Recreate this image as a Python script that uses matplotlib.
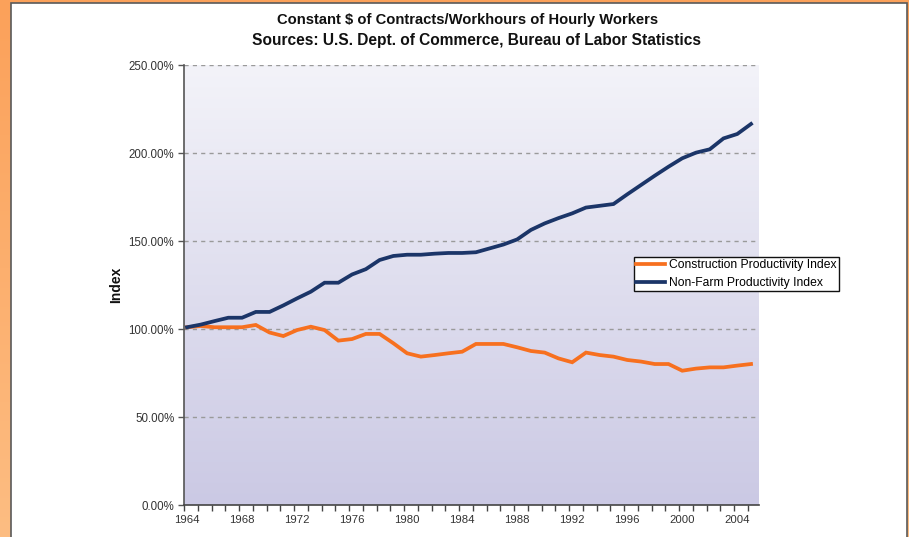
import numpy as np
import matplotlib
matplotlib.use("Agg")
import matplotlib.pyplot as plt
from matplotlib.patches import Rectangle
from matplotlib.colors import LinearSegmentedColormap
from matplotlib.ticker import FixedLocator, FuncFormatter

plt.rcParams['font.family'] = ['Liberation Sans', 'DejaVu Sans']

years = list(range(1964, 2006))
construction = [101, 101.7, 101, 101, 101, 102.3, 98, 96, 99.4, 101.3,
                99.4, 93.4, 94.3, 97.2, 97.2, 91.9, 86.2, 84.3, 85.2, 86.2,
                87.1, 91.5, 91.5, 91.5, 89.6, 87.5, 86.6, 83.3, 81.1, 86.6,
                85.2, 84.3, 82.4, 81.5, 80.1, 80.1, 76.3, 77.5, 78.2, 78.2,
                79.2, 80.1]
nonfarm = [101, 102.5, 104.5, 106.4, 106.4, 109.7, 109.7, 113.4, 117.4, 121.2,
           126.3, 126.3, 131, 134, 139.2, 141.5, 142.2, 142.2, 142.8, 143.2,
           143.2, 143.6, 145.8, 148, 150.9, 156.3, 160, 163, 165.7, 169,
           170, 171, 176.5, 181.8, 187.1, 192.2, 197, 200.2, 202.1, 208.3,
           210.8, 216.5]
y_ticks = [0, 50, 100, 150, 200, 250]
label_years = list(range(1964, 2005, 4))
series_names = ["Construction Productivity Index", "Non-Farm Productivity Index"]
title1 = "Constant $ of Contracts/Workhours of Hourly Workers"
title2 = "Sources: U.S. Dept. of Commerce, Bureau of Labor Statistics"

W, H = 909, 537
fig = plt.figure(figsize=(W / 100, H / 100), dpi=100)

# orange background gradient
bg = fig.add_axes([0, 0, 1, 1], zorder=-10)
bg.set_axis_off()
ocmap = LinearSegmentedColormap.from_list("o", ["#FBA15A", "#FDBD82"])
bg.imshow(np.linspace(0, 1, 256).reshape(-1, 1), aspect='auto', cmap=ocmap,
          extent=[0, 1, 0, 1], origin='upper')
bg.set_xlim(0, 1)
bg.set_ylim(0, 1)
bg.add_patch(Rectangle((10.5 / W, -0.01), (907 - 10.5) / W, 1.01 - 3 / H,
                       facecolor='white', edgecolor='#5a5a5a', linewidth=1.2,
                       transform=bg.transAxes))

left, right = 184 / W, 759 / W
bottom, top = 1 - 505 / H, 1 - 65 / H
ax = fig.add_axes([left, bottom, right - left, top - bottom])

x = np.arange(len(years))
x0, x1 = -0.22, len(years) - 1 + 0.58

# plot gradient background
pcmap = LinearSegmentedColormap.from_list("p", ["#F3F3F9", "#CBC9E4"])
ax.imshow(np.linspace(0, 1, 256).reshape(-1, 1), aspect='auto', cmap=pcmap,
          extent=[x0, x1, 0, 250], origin='upper', zorder=0)

for v in y_ticks[1:]:
    ax.axhline(v, color='#9a9a9a', linestyle=(0, (3, 3)), linewidth=1.0, zorder=1)

l1, = ax.plot(x, construction, color='#F7701F', linewidth=2.7, zorder=3,
              label=series_names[0], solid_joinstyle='miter')
l2, = ax.plot(x, nonfarm, color='#1B3568', linewidth=2.7, zorder=4,
              label=series_names[1], solid_joinstyle='miter')

ax.set_xlim(x0, x1)
ax.set_ylim(0, 250)

ax.set_yticks(y_ticks)
ax.yaxis.set_major_formatter(FuncFormatter(lambda v, p: f"{v:.2f}%"))
ax.tick_params(axis='y', direction='out', length=4, width=1, color='#555555',
               labelsize=8.3, labelcolor='#333333', pad=3)

lbl_pos = [years.index(y) for y in label_years]
ax.set_xticks(lbl_pos)
ax.set_xticklabels([str(y) for y in label_years])
ax.tick_params(axis='x', which='major', length=0, labelsize=8.2,
               labelcolor='#333333', pad=7)
ax.xaxis.set_minor_locator(FixedLocator(np.arange(x0, x1 + 0.3, 1.0)))
ax.tick_params(axis='x', which='minor', direction='out', length=4, width=1,
               color='#444444')

for s in ['top', 'right']:
    ax.spines[s].set_visible(False)
ax.spines['left'].set_color('#555555')
ax.spines['bottom'].set_color('#444444')
ax.spines['left'].set_linewidth(1.2)
ax.spines['bottom'].set_linewidth(1.2)

fig.text(116 / W, 1 - 285 / H, "Index", rotation=90, fontsize=10,
         fontweight='bold', ha='center', va='center', color='#111111')

fig.text(468 / W, 1 - 20 / H, title1, fontsize=10.6, fontweight='bold',
         ha='center', va='center', color='#111111')
fig.text(477 / W, 1 - 41 / H, title2, fontsize=11.2, fontweight='bold',
         ha='center', va='center', color='#111111')

leg = fig.legend(handles=[l1, l2], loc='upper left',
                 bbox_to_anchor=(634 / W, 1 - 256.5 / H), fontsize=8.7,
                 frameon=True, fancybox=False, edgecolor='#111111',
                 framealpha=1, handlelength=2.4, handletextpad=0.3,
                 borderpad=0.2, labelspacing=0.5, borderaxespad=0)
leg.get_frame().set_linewidth(1.0)

fig.savefig("out.png", dpi=100)
